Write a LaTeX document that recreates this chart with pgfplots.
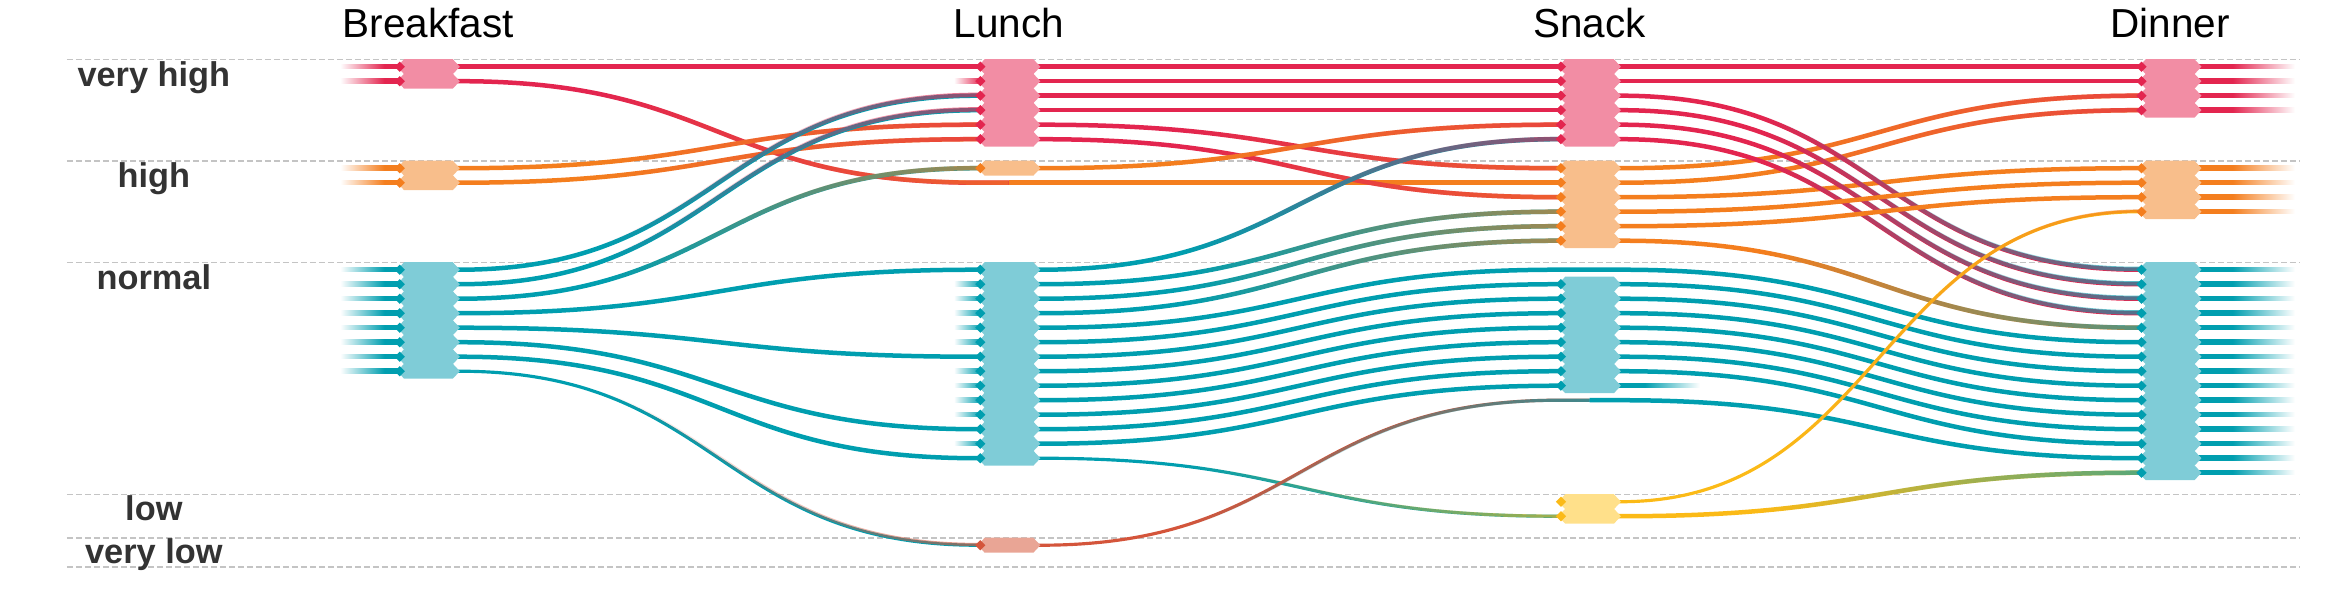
\documentclass[border=0pt]{standalone}
\usepackage{fontspec}
\setmainfont{Liberation Sans}
\usepackage{pgfplots}
\pgfplotsset{compat=1.18}
\usetikzlibrary{fadings}
\definecolor{cVH}{HTML}{E3254F}
\definecolor{cH}{HTML}{F47E1E}
\definecolor{cN}{HTML}{009EAF}
\definecolor{cL}{HTML}{FBBA17}
\definecolor{cVL}{HTML}{D4553B}
\definecolor{nVH}{HTML}{F28DA4}
\definecolor{nH}{HTML}{F8BE8B}
\definecolor{nN}{HTML}{7FCCD7}
\definecolor{nL}{HTML}{FFE08A}
\definecolor{nVL}{HTML}{E9A595}
\definecolor{gridc}{HTML}{C4C4C4}
\definecolor{labc}{HTML}{333333}

\makeatletter
\newdimen\sg@px \newdimen\sg@py \newdimen\sg@qx \newdimen\sg@qy
\newdimen\sg@a \newdimen\sg@b \newdimen\sg@m \newdimen\sg@d
\sg@d=9.3bp
\def\pgfplothandlersigmoid{%
  \def\pgf@plotstreamstart{%
    \global\let\pgf@plotstreampoint=\sg@first
    \global\let\pgf@plotstreamspecial=\pgfutil@gobble
    \global\let\pgf@plotstreamend=\pgfutil@empty
  }%
}
\def\sg@first#1{%
  \pgf@process{#1}%
  \global\sg@px=\pgf@x \global\sg@py=\pgf@y
  \pgfpathmoveto{\pgfqpoint{\sg@px}{\sg@py}}%
  \global\let\pgf@plotstreampoint=\sg@next
}
\def\sg@next#1{%
  \pgf@process{#1}%
  \sg@qx=\pgf@x \sg@qy=\pgf@y
  \sg@a=\sg@px \advance\sg@a by \sg@d
  \sg@b=\sg@qx \advance\sg@b by -\sg@d
  \sg@m=\sg@a \advance\sg@m by \sg@b \divide\sg@m by 2
  \pgfpathlineto{\pgfqpoint{\sg@a}{\sg@py}}%
  \pgfpathcurveto{\pgfqpoint{\sg@m}{\sg@py}}{\pgfqpoint{\sg@m}{\sg@qy}}{\pgfqpoint{\sg@b}{\sg@qy}}%
  \pgfpathlineto{\pgfqpoint{\sg@qx}{\sg@qy}}%
  \global\sg@px=\sg@qx \global\sg@py=\sg@qy
}
\tikzset{sigmoid/.code={\let\tikz@plot@handler=\pgfplothandlersigmoid}}
\makeatother

\pgfdeclareplotmark{hexnode}{%
  \pgfpathmoveto{\pgfqpoint{-9.4bp}{0bp}}%
  \pgfpathlineto{\pgfqpoint{-7.3bp}{2.25bp}}%
  \pgfpathlineto{\pgfqpoint{7.3bp}{2.25bp}}%
  \pgfpathlineto{\pgfqpoint{9.4bp}{0bp}}%
  \pgfpathlineto{\pgfqpoint{7.3bp}{-2.25bp}}%
  \pgfpathlineto{\pgfqpoint{-7.3bp}{-2.25bp}}%
  \pgfpathclose
  \pgfusepathqfill
  \pgfscope
  \pgfsetlinewidth{2.1bp}%
  \pgfpathcircle{\pgfqpoint{-8.6bp}{0bp}}{0.05bp}%
  \pgfusepathqstroke
  \endpgfscope
}

\pgfplotsset{
  ln/.style={sigmoid, line width=1.35bp},
  thn/.style={sigmoid, line width=0.95bp},
  grid line/.style={draw=gridc, line width=0.45bp, dash pattern=on 1.8bp off 0.9bp},
}

% gradient segment: x1 y1 x2 y2 colourA colourB style
\newcommand{\gseg}[7]{%
  \addplot[#7, draw=#5] coordinates {(#1,#2) (#3,#4)};
  \addplot[#7, draw=#6, path fading=grad] coordinates {(#1,#2) (#3,#4)};
}
% start / end stubs: xa xb y colour
\newcommand{\stin}[4]{%
  \pgfmathsetmacro\sya{#3-0.155}\pgfmathsetmacro\syb{#3+0.155}%
  \addplot[draw=none, left color=white, right color=#4, middle color=#4] coordinates {(#1,\sya) (#2,\sya) (#2,\syb) (#1,\syb)};
}
\newcommand{\stout}[4]{%
  \pgfmathsetmacro\sya{#3-0.155}\pgfmathsetmacro\syb{#3+0.155}%
  \addplot[draw=none, left color=#4, right color=white, middle color=#4] coordinates {(#1,\sya) (#2,\sya) (#2,\syb) (#1,\syb)};
}

\begin{document}%
\begin{tikzfadingfrompicture}[name=grad]%
  \fill[transparent!100] (-1000bp,-1000bp) rectangle (-10bp,1000bp);%
  \shade[left color=transparent!100, right color=transparent!0] (-10bp,-1000bp) rectangle (40bp,1000bp);%
  \fill[transparent!0] (40bp,-1000bp) rectangle (1000bp,1000bp);%
\end{tikzfadingfrompicture}%
\begin{tikzpicture}
\begin{axis}[
  name=ax,
  x=174.15bp, y=4.35bp, y dir=reverse,
  xmin=-0.738, xmax=3.303, ymin=-4.10, ymax=37.14,
  hide axis, clip=false,
]
% category boundaries
\addplot[grid line] coordinates {(-0.623,0) (3.222,0)};
\addplot[grid line] coordinates {(-0.623,7) (3.222,7)};
\addplot[grid line] coordinates {(-0.623,14) (3.222,14)};
\addplot[grid line] coordinates {(-0.623,30) (3.222,30)};
\addplot[grid line] coordinates {(-0.623,33) (3.222,33)};
\addplot[grid line] coordinates {(-0.623,35) (3.222,35)};

% nodes
\addplot[only marks, mark=hexnode, mark options={fill=nVH, draw=cVH}] coordinates {
 (0,0.5) (0,1.5)
 (1,0.5) (1,1.5) (1,2.5) (1,3.5) (1,4.5) (1,5.5)
 (2,0.5) (2,1.5) (2,2.5) (2,3.5) (2,4.5) (2,5.5)
 (3,0.5) (3,1.5) (3,2.5) (3,3.5)};
\addplot[only marks, mark=hexnode, mark options={fill=nH, draw=cH}] coordinates {
 (0,7.5) (0,8.5)
 (1,7.5)
 (2,7.5) (2,8.5) (2,9.5) (2,10.5) (2,11.5) (2,12.5)
 (3,7.5) (3,8.5) (3,9.5) (3,10.5)};
\addplot[only marks, mark=hexnode, mark options={fill=nN, draw=cN}] coordinates {
 (0,14.5) (0,15.5) (0,16.5) (0,17.5) (0,18.5) (0,19.5) (0,20.5) (0,21.5)
 (1,14.5) (1,15.5) (1,16.5) (1,17.5) (1,18.5) (1,19.5) (1,20.5) (1,21.5)
 (1,22.5) (1,23.5) (1,24.5) (1,25.5) (1,26.5) (1,27.5)
 (2,15.5) (2,16.5) (2,17.5) (2,18.5) (2,19.5) (2,20.5) (2,21.5) (2,22.5)
 (3,14.5) (3,15.5) (3,16.5) (3,17.5) (3,18.5) (3,19.5) (3,20.5) (3,21.5)
 (3,22.5) (3,23.5) (3,24.5) (3,25.5) (3,26.5) (3,27.5) (3,28.5)};
\addplot[only marks, mark=hexnode, mark options={fill=nL, draw=cL}] coordinates {
 (2,30.5) (2,31.5)};
\addplot[only marks, mark=hexnode, mark options={fill=nVL, draw=cVL}] coordinates {
 (1,33.5)};

% day lines
\addplot[ln, draw=cN] coordinates {(0,18.5) (1,20.5) (2,16.5) (3,21.5)};
\addplot[ln, draw=cN] coordinates {(0,19.5) (1,25.5) (2,21.5) (3,26.5)};
\addplot[ln, draw=cN] coordinates {(1,18.5) (2,14.5) (3,19.5)};
\addplot[ln, draw=cN] coordinates {(1,19.5) (2,15.5) (3,20.5)};
\addplot[ln, draw=cN] coordinates {(1,21.5) (2,17.5) (3,22.5)};
\addplot[ln, draw=cN] coordinates {(1,22.5) (2,18.5) (3,23.5)};
\addplot[ln, draw=cN] coordinates {(1,23.5) (2,19.5) (3,24.5)};
\addplot[ln, draw=cN] coordinates {(1,24.5) (2,20.5) (3,25.5)};
\addplot[ln, draw=cN] coordinates {(1,26.5) (2,22.5)};
\addplot[ln, draw=cN] coordinates {(0,20.5) (1,27.5)};
\gseg{1}{27.5}{2}{31.5}{cN}{cL}{thn}
\gseg{2}{31.5}{3}{28.5}{cL}{cN}{ln}
\gseg{0}{21.5}{1}{33.5}{cN}{cVL}{thn}
\gseg{1}{33.5}{2}{23.5}{cVL}{cN}{thn}
\addplot[ln, draw=cN] coordinates {(2,23.5) (3,27.5)};

\addplot[ln, draw=cVH] coordinates {(0,0.5) (1,0.5) (2,0.5) (3,0.5)};
\addplot[ln, draw=cVH] coordinates {(1,1.5) (2,1.5) (3,1.5)};
\gseg{0}{1.5}{1}{8.5}{cVH}{cH}{ln}
\addplot[ln, draw=cH] coordinates {(1,8.5) (2,8.5)};
\gseg{2}{8.5}{3}{3.5}{cH}{cVH}{ln}
\gseg{0}{7.5}{1}{4.5}{cH}{cVH}{ln}
\gseg{1}{4.5}{2}{7.5}{cVH}{cH}{ln}
\gseg{2}{7.5}{3}{2.5}{cH}{cVH}{ln}
\gseg{0}{8.5}{1}{5.5}{cH}{cVH}{ln}
\gseg{1}{5.5}{2}{9.5}{cVH}{cH}{ln}
\addplot[ln, draw=cH] coordinates {(2,9.5) (3,7.5)};
\gseg{0}{14.5}{1}{2.5}{cN}{cVH}{ln}
\addplot[ln, draw=cVH] coordinates {(1,2.5) (2,2.5)};
\gseg{2}{2.5}{3}{14.5}{cVH}{cN}{ln}
\gseg{0}{15.5}{1}{3.5}{cN}{cVH}{ln}
\addplot[ln, draw=cVH] coordinates {(1,3.5) (2,3.5)};
\gseg{2}{3.5}{3}{15.5}{cVH}{cN}{ln}
\gseg{0}{16.5}{1}{7.5}{cN}{cH}{ln}
\gseg{1}{7.5}{2}{4.5}{cH}{cVH}{ln}
\gseg{2}{4.5}{3}{16.5}{cVH}{cN}{ln}
\addplot[ln, draw=cN] coordinates {(0,17.5) (1,14.5)};
\gseg{1}{14.5}{2}{5.5}{cN}{cVH}{ln}
\gseg{2}{5.5}{3}{17.5}{cVH}{cN}{ln}
\gseg{1}{15.5}{2}{10.5}{cN}{cH}{ln}
\addplot[ln, draw=cH] coordinates {(2,10.5) (3,8.5)};
\gseg{1}{16.5}{2}{11.5}{cN}{cH}{ln}
\addplot[ln, draw=cH] coordinates {(2,11.5) (3,9.5)};
\gseg{1}{17.5}{2}{12.5}{cN}{cH}{ln}
\gseg{2}{12.5}{3}{18.5}{cH}{cN}{ln}
\gseg{2}{30.5}{3}{10.5}{cL}{cH}{thn}

% stubs: starts at Breakfast
\stin{-0.152}{0}{0.5}{cVH}
\stin{-0.152}{0}{1.5}{cVH}
\stin{-0.152}{0}{7.5}{cH}
\stin{-0.152}{0}{8.5}{cH}
\stin{-0.152}{0}{14.5}{cN}
\stin{-0.152}{0}{15.5}{cN}
\stin{-0.152}{0}{16.5}{cN}
\stin{-0.152}{0}{17.5}{cN}
\stin{-0.152}{0}{18.5}{cN}
\stin{-0.152}{0}{19.5}{cN}
\stin{-0.152}{0}{20.5}{cN}
\stin{-0.152}{0}{21.5}{cN}
% starts at Lunch
\stin{0.905}{1}{1.5}{cVH}
\stin{0.905}{1}{15.5}{cN}
\stin{0.905}{1}{16.5}{cN}
\stin{0.905}{1}{17.5}{cN}
\stin{0.905}{1}{18.5}{cN}
\stin{0.905}{1}{19.5}{cN}
\stin{0.905}{1}{21.5}{cN}
\stin{0.905}{1}{22.5}{cN}
\stin{0.905}{1}{23.5}{cN}
\stin{0.905}{1}{24.5}{cN}
\stin{0.905}{1}{26.5}{cN}
% start at Snack, end at Snack
\stin{1.95}{2}{30.5}{cL}
\stout{2}{2.19}{22.5}{cN}
% ends at Dinner
\stout{3}{3.215}{0.5}{cVH}
\stout{3}{3.215}{1.5}{cVH}
\stout{3}{3.215}{2.5}{cVH}
\stout{3}{3.215}{3.5}{cVH}
\stout{3}{3.215}{7.5}{cH}
\stout{3}{3.215}{8.5}{cH}
\stout{3}{3.215}{9.5}{cH}
\stout{3}{3.215}{10.5}{cH}
\stout{3}{3.215}{14.5}{cN}
\stout{3}{3.215}{15.5}{cN}
\stout{3}{3.215}{16.5}{cN}
\stout{3}{3.215}{17.5}{cN}
\stout{3}{3.215}{18.5}{cN}
\stout{3}{3.215}{19.5}{cN}
\stout{3}{3.215}{20.5}{cN}
\stout{3}{3.215}{21.5}{cN}
\stout{3}{3.215}{22.5}{cN}
\stout{3}{3.215}{23.5}{cN}
\stout{3}{3.215}{24.5}{cN}
\stout{3}{3.215}{25.5}{cN}
\stout{3}{3.215}{26.5}{cN}
\stout{3}{3.215}{27.5}{cN}
\stout{3}{3.215}{28.5}{cN}

% titles
\node[anchor=base, font=\fontsize{12.15bp}{14bp}\selectfont] at (axis cs:0,-1.5) {Breakfast};
\node[anchor=base, font=\fontsize{12.15bp}{14bp}\selectfont] at (axis cs:1,-1.5) {Lunch};
\node[anchor=base, font=\fontsize{12.15bp}{14bp}\selectfont] at (axis cs:2,-1.5) {Snack};
\node[anchor=base, font=\fontsize{12.15bp}{14bp}\selectfont] at (axis cs:3,-1.5) {Dinner};
% category labels
\node[anchor=base, text=labc, font=\fontsize{10.3bp}{12bp}\selectfont\bfseries] at (axis cs:-0.473,1.85) {very high};
\node[anchor=base, text=labc, font=\fontsize{10.3bp}{12bp}\selectfont\bfseries] at (axis cs:-0.473,8.85) {high};
\node[anchor=base, text=labc, font=\fontsize{10.3bp}{12bp}\selectfont\bfseries] at (axis cs:-0.473,15.85) {normal};
\node[anchor=base, text=labc, font=\fontsize{10.3bp}{12bp}\selectfont\bfseries] at (axis cs:-0.473,31.8) {low};
\node[anchor=base, text=labc, font=\fontsize{10.3bp}{12bp}\selectfont\bfseries] at (axis cs:-0.473,34.75) {very low};
\end{axis}
\pgfresetboundingbox
\path[use as bounding box] (ax.south west) rectangle (ax.north east);
\end{tikzpicture}%
\end{document}
